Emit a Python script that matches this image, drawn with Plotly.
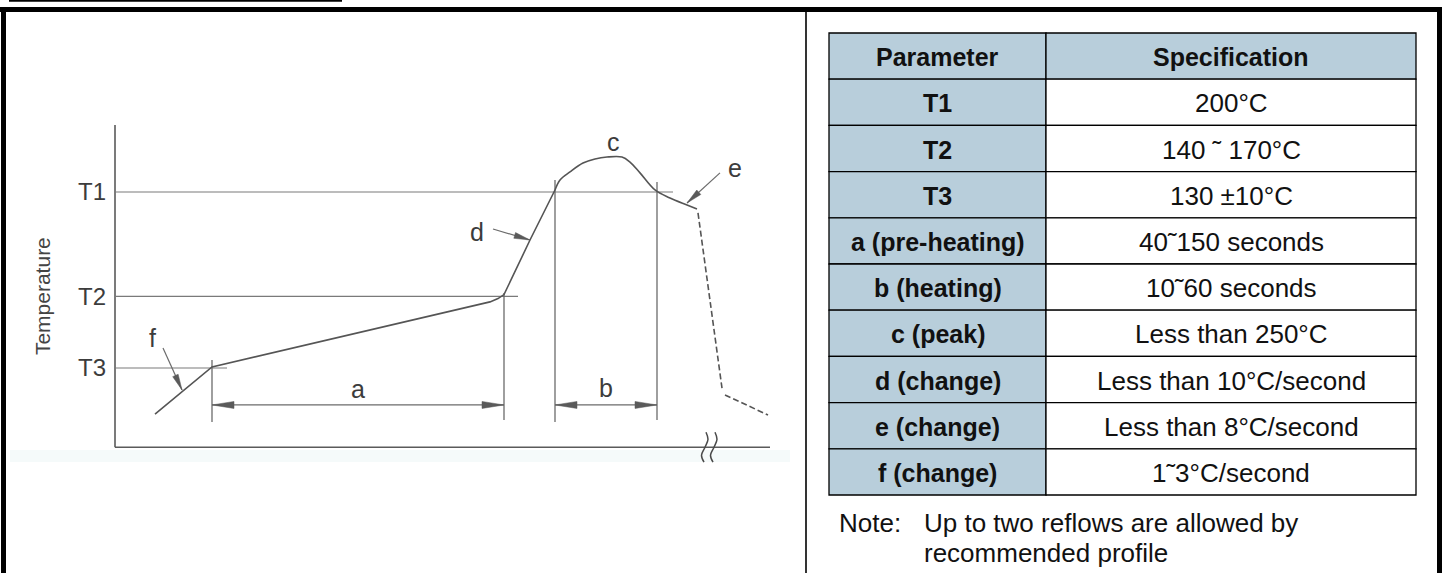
import math

import plotly.graph_objects as go

W, H = 1442, 573

# ---- reflow profile sketch (schematic: time in s, temperature in degC) ----
T_LEVELS = [200, 158.5, 130]
T_NAMES = ["T1", "T2", "T3"]
T_LINE_END = [279, 201.5, 56]

# rise: f slope, pre-heating, d ramp (straight pieces)
rise_t = [20, 48.5, 187.5, 191.5, 194.5, 207.5, 220]
rise_T = [111.7, 130.4, 156.3, 157.6, 159.2, 180.9, 200.8]
# peak hump c and start of cooling e (smooth)
peak_t = [220, 222.5, 227.5, 234, 240, 246, 253.5, 257.5, 262.5, 270, 277.5, 286, 291]
peak_T = [200.8, 204.8, 208, 211.5, 213.1, 213.9, 213.9, 211.9, 207.6, 200.8, 197.6,
          194.8, 193.2]

cool_t = [291.5, 303.5, None, 305, 326.5]
cool_T = [191.7, 122.0, None, 119.3, 111.3]

marker_t = [48.5, 194.5, 220, 271]
marker_top = [133.2, 159.8, 204.8, 204.0]
marker_bottom = [108.5, 109.3, 108.5, 109.3]

dim_names = ["a", "b"]
dim_start = [48.5, 220]
dim_end = [194.5, 271]
DIM_T = 115.3
dim_label_T = [121.5, 122.0]

leader_names = ["f", "d", "e"]
leader_tail_t = [24, 189, 302.5]
leader_tail_T = [138.0, 185.3, 207.6]
leader_tip_t = [33.5, 207.5, 286]
leader_tip_T = [121.25, 180.9, 195.6]
leader_label_t = [18.5, 181, 310]
leader_label_T = [141.9, 184.1, 209.5]

PEAK_LABEL = ("c", 249, 219.9)
AXIS_TOP_T = 226.6
AXIS_BASE_T = 98.5
AXIS_END_t = 327.5
BREAK_t = 297

# ---- spec table ----
TABLE_HEADER = ["Parameter", "Specification"]
PARAMS = ["T1", "T2", "T3", "a (pre-heating)", "b (heating)", "c (peak)",
          "d (change)", "e (change)", "f (change)"]
SPECS = ["200°C", "140 ˜ 170°C", "130 ±10°C", "40˜150 seconds", "10˜60 seconds",
         "Less than 250°C", "Less than 10°C/second", "Less than 8°C/second",
         "1˜3°C/second"]
NOTE_HEAD = "Note:"
NOTE_LINES = ["Up to two reflows are allowed by", "recommended profile"]

# ---- layout constants ----
SKETCH_W = 806
X_RANGE = [-57.5, 345.5]
Y_RANGE = [48.47, 276.36]
XS = SKETCH_W / (X_RANGE[1] - X_RANGE[0])
YS = H / (Y_RANGE[1] - Y_RANGE[0])
LINE = "#6b6b6b"
AXIS = "#5a5a5a"
INK = "#3c3c3c"
FONT = "Liberation Sans, Arial, sans-serif"
HEAD_FILL = "#b8cedb"


def px(x):
    return x / W


def py(y):
    return 1 - y / H


def arrow_head(tip_t, tip_T, tail_t, tail_T, length, width):
    dx = (tip_t - tail_t) * XS
    dy = (tip_T - tail_T) * YS
    n = math.hypot(dx, dy)
    ux, uy = dx / n, dy / n
    bx, by = -ux * length, -uy * length
    nx, ny = -uy * width / 2, ux * width / 2
    pts = [(0, 0), (bx + nx, by + ny), (bx - nx, by - ny), (0, 0)]
    return ([tip_t + p[0] / XS for p in pts], [tip_T + p[1] / YS for p in pts])


fig = go.Figure()


def seg(xs, ys, color=LINE, width=1.4, dash=None, shape="linear"):
    fig.add_trace(go.Scatter(x=xs, y=ys, mode="lines", hoverinfo="skip",
                             line=dict(color=color, width=width, dash=dash, shape=shape),
                             showlegend=False))


def filled(xs, ys, color=AXIS):
    fig.add_trace(go.Scatter(x=xs, y=ys, mode="lines", fill="toself", fillcolor=color,
                             line=dict(color=color, width=0.5), hoverinfo="skip",
                             showlegend=False))


# axes of the sketch
seg([0, 0], [AXIS_TOP_T, AXIS_BASE_T], AXIS, 1.6)
seg([0, AXIS_END_t], [AXIS_BASE_T, AXIS_BASE_T], AXIS, 1.6)

# temperature levels
for lvl, end in zip(T_LEVELS, T_LINE_END):
    seg([0, end], [lvl, lvl], "#7a7a7a", 1.2)

# vertical markers
for t, top, bot in zip(marker_t, marker_top, marker_bottom):
    seg([t, t], [top, bot], LINE, 1.3)

# profile
seg(rise_t, rise_T, "#555555", 1.6)
seg(peak_t, peak_T, "#555555", 1.6, shape="spline")
seg(cool_t, cool_T, "#555555", 1.6, dash="6px,3px")

# dimension arrows a / b
for name, s, e, lt in zip(dim_names, dim_start, dim_end, dim_label_T):
    seg([s, e], [DIM_T, DIM_T], LINE, 1.2)
    hx, hy = arrow_head(s, DIM_T, e, DIM_T, 22, 7)
    filled(hx, hy)
    hx, hy = arrow_head(e, DIM_T, s, DIM_T, 22, 7)
    filled(hx, hy)
    fig.add_annotation(x=(s + e) / 2, y=lt, text=name, showarrow=False,
                       font=dict(family=FONT, size=25, color=INK))

# leaders f / d / e
for name, tt, tT, ht, hT, lx, ly in zip(leader_names, leader_tail_t, leader_tail_T,
                                         leader_tip_t, leader_tip_T,
                                         leader_label_t, leader_label_T):
    seg([tt, ht], [tT, hT], LINE, 1.2)
    hx, hy = arrow_head(ht, hT, tt, tT, 16, 6)
    filled(hx, hy)
    fig.add_annotation(x=lx, y=ly, text=name, showarrow=False,
                       font=dict(family=FONT, size=25, color=INK))

fig.add_annotation(x=PEAK_LABEL[1], y=PEAK_LABEL[2], text=PEAK_LABEL[0], showarrow=False,
                   font=dict(family=FONT, size=25, color=INK))
fig.add_annotation(x=-36.5, y=158.6, text="Temperature", textangle=-90, showarrow=False,
                   font=dict(family=FONT, size=21, color="#444444"))

# axis break mark
for off in (-4.5, 4.5):
    bx = [BREAK_t + (off + d) / XS for d in (1.5, 3.5, 0.5, -3.0, -0.5)]
    by = [AXIS_BASE_T + d / YS for d in (15, 8, 0, -8, -15)]
    seg(bx, by, "#4a4a4a", 1.5, shape="spline")

# ---- frame ----
shapes = [
    dict(type="rect", xref="paper", yref="paper", x0=px(10), x1=px(790), y0=py(462), y1=py(450),
         fillcolor="#f5fafa", line=dict(width=0), layer="below"),
    dict(type="line", xref="paper", yref="paper", x0=px(9), x1=px(342), y0=py(0.8), y1=py(0.8),
         line=dict(color="black", width=2)),
    dict(type="line", xref="paper", yref="paper", x0=0, x1=1, y0=py(9.5), y1=py(9.5),
         line=dict(color="black", width=5)),
    dict(type="line", xref="paper", yref="paper", x0=px(3.5), x1=px(3.5), y0=py(7), y1=0,
         line=dict(color="black", width=5)),
    dict(type="line", xref="paper", yref="paper", x0=px(1439.5), x1=px(1439.5), y0=py(7), y1=0,
         line=dict(color="black", width=5)),
    dict(type="line", xref="paper", yref="paper", x0=px(806), x1=px(806), y0=py(11), y1=0,
         line=dict(color="black", width=1.6)),
]

# ---- table ----
COLS = [829, 1046, 1416]
TOP, ROW_H = 33, 46.2
rows = [TABLE_HEADER] + [[p, s] for p, s in zip(PARAMS, SPECS)]
for i, row in enumerate(rows):
    y0 = TOP + i * ROW_H
    for j, text in enumerate(row):
        head = i == 0 or j == 0
        shapes.append(dict(type="rect", xref="paper", yref="paper",
                           x0=px(COLS[j]), x1=px(COLS[j + 1]), y0=py(y0 + ROW_H), y1=py(y0),
                           fillcolor=HEAD_FILL if head else "white",
                           line=dict(color="black", width=1.3), layer="below"))
        fig.add_annotation(xref="paper", yref="paper",
                           x=px((COLS[j] + COLS[j + 1]) / 2), y=py(y0 + ROW_H / 2 + 1),
                           text=f"<b>{text}</b>" if head else text,
                           showarrow=False, xanchor="center", yanchor="middle",
                           font=dict(family=FONT, size=25 if head else 26, color="#111111"))

fig.add_annotation(xref="paper", yref="paper", x=px(837), y=py(523), text=NOTE_HEAD,
                   showarrow=False, xanchor="left", yanchor="middle",
                   font=dict(family=FONT, size=26, color="#111111"))
for k, line in enumerate(NOTE_LINES):
    fig.add_annotation(xref="paper", yref="paper", x=px(922), y=py(523 + 29.5 * k), text=line,
                       showarrow=False, xanchor="left", yanchor="middle",
                       font=dict(family=FONT, size=26, color="#111111"))

fig.update_layout(
    width=W, height=H,
    margin=dict(l=0, r=0, t=0, b=0),
    paper_bgcolor="white", plot_bgcolor="rgba(0,0,0,0)",
    shapes=shapes,
    showlegend=False,
    xaxis=dict(domain=[0, SKETCH_W / W], range=X_RANGE, visible=False, fixedrange=True),
    yaxis=dict(domain=[0, 1], range=Y_RANGE, anchor="free", position=115 / W,
               tickvals=T_LEVELS, ticktext=T_NAMES, ticks="", showgrid=False,
               zeroline=False, showline=False, ticklabelstandoff=9,
               tickfont=dict(family=FONT, size=24, color=INK), fixedrange=True),
)

# page body margin would shift the figure by 8px
fig.write_html("out.html", config={"displayModeBar": False},
               post_script="document.body.style.margin='0px';")
